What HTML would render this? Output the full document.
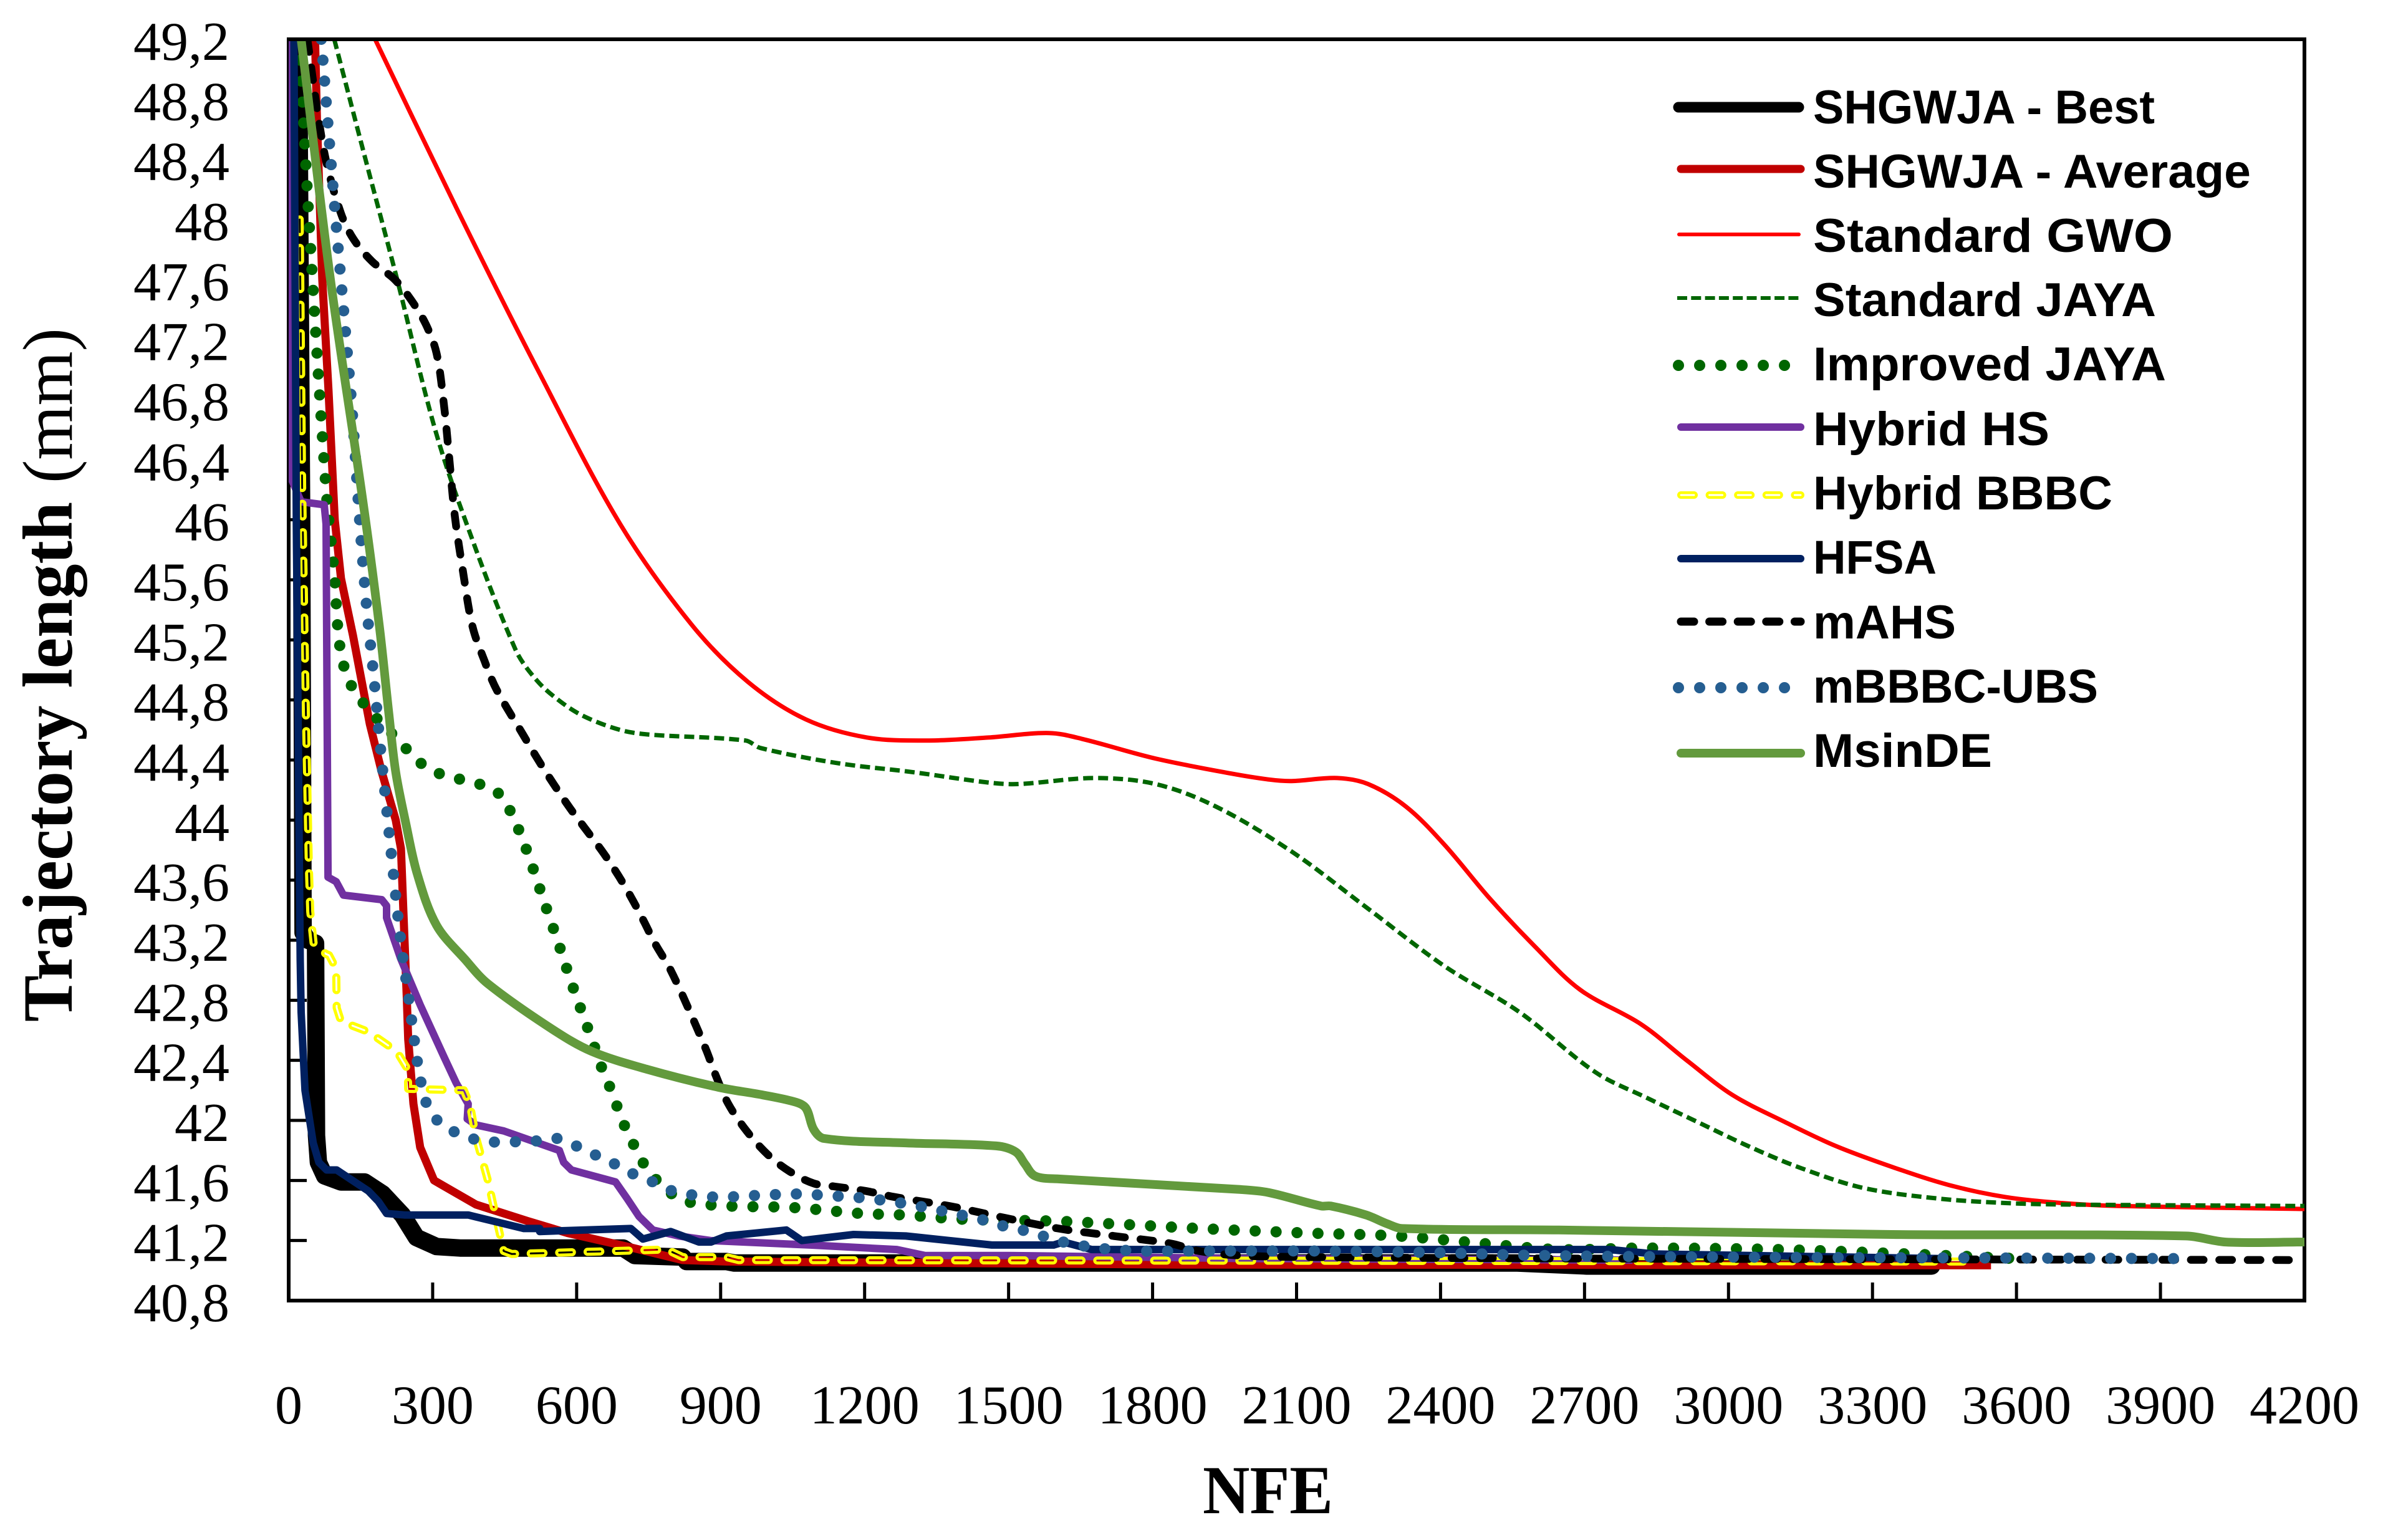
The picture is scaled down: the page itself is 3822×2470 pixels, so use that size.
<!DOCTYPE html>
<html lang="en">
<head>
<meta charset="utf-8">
<title>Trajectory length vs NFE</title>
<style>
html,body{margin:0;padding:0;background:#fff;}
svg{display:block;}
.tick-label{font-family:"Liberation Serif",serif;font-size:88px;fill:#000;}
.legend-text{font-family:"Liberation Sans",sans-serif;font-weight:bold;font-size:76px;fill:#000;}
.s{fill:none;stroke-linejoin:round;}
</style>
</head>
<body>
<svg id="chart" xmlns="http://www.w3.org/2000/svg" width="3822" height="2470" viewBox="0 0 3822 2470">
  <defs>
    <clipPath id="plot-clip"><rect x="463" y="66" width="3233" height="2020"/></clipPath>
    <mask id="bbbc-mask" maskUnits="userSpaceOnUse" x="0" y="0" width="3822" height="2470">
      <rect x="0" y="0" width="3822" height="2470" fill="#fff"/>
      <path id="s-bbbc-inner" fill="none" stroke="#000" stroke-width="3" stroke-linecap="round" stroke-linejoin="round" stroke-dasharray="20.4 25.2"/>
    </mask>
  </defs>
  <rect x="0" y="0" width="3822" height="2470" fill="#fff"/>
  <rect x="463" y="63" width="3233" height="2023" fill="none" stroke="#000" stroke-width="6"/>
  <g id="ticks"></g>
  <g id="tick-labels"></g>

  <g clip-path="url(#plot-clip)">
    <path id="s-best" class="s" stroke="#000" stroke-width="28" stroke-linecap="round"/>
    <path id="s-avg" class="s" stroke="#C00000" stroke-width="13"/>
    <path id="s-gwo" class="s" stroke="#FF0000" stroke-width="7"/>
    <path id="s-jaya" class="s" stroke="#006600" stroke-width="7" stroke-dasharray="16 8"/>
    <path id="s-ijaya" class="s" stroke="#006600" stroke-width="18" stroke-linecap="round" stroke-dasharray="0.01 33.6"/>
    <path id="s-hs" class="s" stroke="#7030A0" stroke-width="12"/>
    <path id="s-bbbc" class="s" stroke="#FFFF00" stroke-width="13" stroke-linecap="round" stroke-dasharray="20.4 25.2" mask="url(#bbbc-mask)"/>
    <path id="s-hfsa" class="s" stroke="#002060" stroke-width="12"/>
    <path id="s-mahs" class="s" stroke="#000" stroke-width="12.5" stroke-linecap="round" stroke-dasharray="20.4 25.2"/>
    <path id="s-ubs" class="s" stroke="#255E91" stroke-width="18" stroke-linecap="round" stroke-dasharray="0.01 33.6"/>
    <path id="s-msin" class="s" stroke="#639A3D" stroke-width="14"/>
  </g>

  <text transform="translate(115 1639) rotate(-90)" font-family="'Liberation Serif',serif" font-weight="bold" font-size="113" fill="#000" textLength="834" lengthAdjust="spacingAndGlyphs">Trajectory length</text>
  <text transform="translate(115 775) rotate(-90)" font-family="'Liberation Serif',serif" font-size="113" fill="#000" textLength="249" lengthAdjust="spacingAndGlyphs">(mm)</text>
  <text x="1929" y="2427" font-family="'Liberation Serif',serif" font-weight="bold" font-size="110" fill="#000" textLength="209" lengthAdjust="spacingAndGlyphs">NFE</text>

  <g>
    <g>
      <line x1="2692" y1="172" x2="2885" y2="172" stroke="#000" stroke-width="17" stroke-linecap="round"/>
      <text class="legend-text" x="2908" y="198" textLength="548" lengthAdjust="spacingAndGlyphs">SHGWJA - Best</text>
    </g>
    <g>
      <line x1="2696" y1="271" x2="2888" y2="271" stroke="#C00000" stroke-width="13" stroke-linecap="round"/>
      <text class="legend-text" x="2908" y="301" textLength="702" lengthAdjust="spacingAndGlyphs">SHGWJA - Average</text>
    </g>
    <g>
      <line x1="2693" y1="376" x2="2885" y2="376" stroke="#FF0000" stroke-width="6" stroke-linecap="round"/>
      <text class="legend-text" x="2908" y="404" textLength="577" lengthAdjust="spacingAndGlyphs">Standard GWO</text>
    </g>
    <g>
      <line x1="2690" y1="478" x2="2888" y2="478" stroke="#006600" stroke-width="6" stroke-dasharray="16 6.3"/>
      <text class="legend-text" x="2908" y="507" textLength="550" lengthAdjust="spacingAndGlyphs">Standard JAYA</text>
    </g>
    <g>
      <line x1="2692" y1="586" x2="2864" y2="586" stroke="#006600" stroke-width="18" stroke-linecap="round" stroke-dasharray="0.01 34"/>
      <text class="legend-text" x="2908" y="610" textLength="566" lengthAdjust="spacingAndGlyphs">Improved JAYA</text>
    </g>
    <g>
      <line x1="2696" y1="685" x2="2888" y2="685" stroke="#7030A0" stroke-width="12" stroke-linecap="round"/>
      <text class="legend-text" x="2908" y="714" textLength="379" lengthAdjust="spacingAndGlyphs">Hybrid HS</text>
    </g>
    <g>
      <line x1="2696" y1="794" x2="2888" y2="794" stroke="#FFFF00" stroke-width="12" stroke-linecap="round" stroke-dasharray="21 24.6"/>
      <line x1="2696" y1="794" x2="2888" y2="794" stroke="#fff" stroke-width="3" stroke-linecap="round" stroke-dasharray="21 24.6"/>
      <text class="legend-text" x="2908" y="817" textLength="480" lengthAdjust="spacingAndGlyphs">Hybrid BBBC</text>
    </g>
    <g>
      <line x1="2696" y1="896" x2="2888" y2="896" stroke="#002060" stroke-width="12" stroke-linecap="round"/>
      <text class="legend-text" x="2908" y="920" textLength="198" lengthAdjust="spacingAndGlyphs">HFSA</text>
    </g>
    <g>
      <line x1="2696" y1="997" x2="2888" y2="997" stroke="#000" stroke-width="13" stroke-linecap="round" stroke-dasharray="21 24.6"/>
      <text class="legend-text" x="2908" y="1024" textLength="229" lengthAdjust="spacingAndGlyphs">mAHS</text>
    </g>
    <g>
      <line x1="2692" y1="1103" x2="2864" y2="1103" stroke="#255E91" stroke-width="18" stroke-linecap="round" stroke-dasharray="0.01 34"/>
      <text class="legend-text" x="2908" y="1127" textLength="457" lengthAdjust="spacingAndGlyphs">mBBBC-UBS</text>
    </g>
    <g>
      <line x1="2696" y1="1208" x2="2888" y2="1208" stroke="#639A3D" stroke-width="14" stroke-linecap="round"/>
      <text class="legend-text" x="2908" y="1230" textLength="287" lengthAdjust="spacingAndGlyphs">MsinDE</text>
    </g>
  </g>
</svg>
<script>
const xTickLabels = ["0","300","600","900","1200","1500","1800","2100","2400","2700","3000","3300","3600","3900","4200"];
const yTickLabels = ["40,8","41,2","41,6","42","42,4","42,8","43,2","43,6","44","44,4","44,8","45,2","45,6","46","46,4","46,8","47,2","47,6","48","48,4","48,8","49,2"];

const bestNfe = [15,21,27,30,40,56,57,58,62,75,109,158,196,237,266,308,357,697,721,821,829,912,929,1217,2560,2705,3423];
const bestLen = [49.2,49,46,43.25,43.2,43.18,42.5,41.9,41.72,41.63,41.59,41.59,41.51,41.37,41.22,41.16,41.15,41.15,41.1,41.09,41.06,41.06,41.05,41.05,41.05,41.03,41.03];

const avgNfe = [55,59,70,83,96,109,134,169,194,223,234,239,246,249,260,274,303,390,498,581,705,821,912,1850,3547];
const avgLen = [49.2,48.66,47.6,46.86,46.0,45.61,45.23,44.64,44.32,44.0,43.81,43.39,42.82,42.54,42.11,41.82,41.6,41.44,41.33,41.25,41.16,41.07,41.06,41.04,41.035];

const gwoNfe = [180,352,522,691,840,957,1078,1205,1331,1458,1584,1654,1806,1964,2043,2090,2185,2249,2328,2407,2502,2596,2691,2818,2913,3008,3117,3223,3341,3459,3576,3694,3812,4200];
const gwoLen = [49.2,48.06,46.98,45.97,45.3,44.92,44.67,44.55,44.53,44.55,44.58,44.54,44.41,44.31,44.27,44.26,44.28,44.24,44.09,43.84,43.48,43.16,42.87,42.64,42.4,42.17,41.99,41.83,41.69,41.57,41.49,41.45,41.43,41.41];

const jayaNfe = [95,156,226,299,353,472,517,566,616,691,750,952,983,1142,1299,1458,1521,1679,1806,1932,2090,2249,2407,2565,2723,2830,2935,3047,3153,3281,3435,3576,3694,4200];
const jayaLen = [49.2,48.45,47.6,46.67,46.13,45.14,44.93,44.79,44.69,44.6,44.57,44.53,44.48,44.38,44.32,44.25,44.24,44.28,44.24,44.09,43.79,43.41,43.03,42.72,42.32,42.15,41.99,41.82,41.68,41.55,41.48,41.45,41.44,41.43];

const improvedNfe = [22,44,78,95,109,139,229,293,383,425,455,491,534,563,591,635,650,667,699,717,738,759,790,829,916,1048,1193,1281,1415,1590,1724,1899,2121,2310,2489,2646,2823,3105,3376,3600];
const improvedLen = [49.2,47.9,46.2,45.64,45.11,44.85,44.53,44.34,44.25,44.21,44.1,43.84,43.44,43.17,42.9,42.51,42.37,42.24,41.97,41.85,41.72,41.63,41.53,41.46,41.43,41.42,41.38,41.37,41.34,41.33,41.31,41.28,41.25,41.23,41.18,41.14,41.15,41.14,41.11,41.08];

const hsNfe = [2,6,26,74,78,82,99,114,194,204,204,233,274,324,349,374,372,390,448,564,573,589,681,705,730,759,813,879,1087,1267,1326,1500,2000,2800];
const hsLen = [49.2,46.27,46.12,46.1,45.97,43.62,43.59,43.5,43.47,43.43,43.35,43.08,42.77,42.42,42.25,42.11,42.01,41.97,41.93,41.8,41.72,41.67,41.59,41.48,41.36,41.27,41.23,41.2,41.17,41.14,41.1,41.1,41.08,41.07];

const bbbcNfe = [23,26,28,29,35,42,45,52,77,84,99,100,109,166,225,248,249,365,378,390,415,431,448,465,788,821,912,937,3495];
const bbbcLen = [48,46.97,46.22,46.04,44.87,43.7,43.39,43.18,43.11,43.1,43.01,42.75,42.66,42.59,42.46,42.34,42.21,42.2,42.1,41.89,41.6,41.37,41.13,41.11,41.14,41.09,41.09,41.07,41.06];

const hfsaNfe = [11,16,24,26,34,51,63,79,100,166,187,204,241,374,490,523,523,713,738,796,855,880,912,1037,1069,1177,1286,1465,1594,1614,1673,2646,2752,2847,3440];
const hfsaLen = [49.2,45.97,43.07,42.72,42.2,41.85,41.72,41.67,41.67,41.53,41.46,41.38,41.37,41.37,41.28,41.28,41.26,41.28,41.21,41.26,41.19,41.19,41.23,41.27,41.2,41.24,41.23,41.17,41.17,41.19,41.14,41.14,41.14,41.11,41.08];

const mahsNfe = [39,59,78,109,135,174,221,256,286,308,323,334,346,363,383,408,433,490,520,552,586,621,656,689,718,741,763,796,846,871,891,916,954,999,1044,1094,1137,1202,1262,1376,1493,1604,1719,1838,1897,1982,2121,2700,4200];
const mahsLen = [49.2,48.74,48.39,48.04,47.87,47.72,47.6,47.46,47.3,47.11,46.78,46.43,46.03,45.66,45.29,45.06,44.87,44.56,44.4,44.24,44.08,43.93,43.78,43.62,43.46,43.32,43.18,43.0,42.65,42.46,42.29,42.11,41.93,41.77,41.66,41.58,41.56,41.53,41.49,41.43,41.35,41.28,41.23,41.18,41.13,41.1,41.09,41.08,41.07];

const ubsNfe = [68,94,117,132,147,161,179,187,200,214,233,251,269,277,279,295,324,365,407,496,539,559,599,639,679,720,759,800,883,972,1060,1120,1207,1294,1386,1443,1485,1528,1571,1614,1686,1773,1863,1962,2141,2380,2609,3000,3930];
const ubsLen = [49.2,48.15,47.3,46.74,46.03,45.47,44.9,44.62,44.2,43.77,43.21,42.79,42.37,42.23,42.19,42.06,41.96,41.9,41.86,41.86,41.87,41.88,41.83,41.77,41.71,41.64,41.59,41.53,41.49,41.5,41.51,41.5,41.48,41.44,41.38,41.34,41.3,41.27,41.23,41.19,41.15,41.13,41.13,41.13,41.13,41.12,41.1,41.09,41.08];

const msinNfe = [26,87,154,189,209,223,244,268,308,368,415,548,631,747,896,987,1058,1078,1094,1115,1286,1474,1515,1534,1555,1604,1982,2041,2151,2171,2245,2290,2320,2646,3341,3953,4036,4200];
const msinLen = [49.2,47.6,46.14,45.29,44.7,44.32,43.98,43.64,43.3,43.07,42.91,42.61,42.46,42.34,42.22,42.17,42.12,42.08,41.94,41.88,41.85,41.83,41.79,41.71,41.63,41.61,41.54,41.52,41.43,41.43,41.37,41.31,41.28,41.27,41.24,41.23,41.19,41.19];

const NS = "http://www.w3.org/2000/svg";
const plotLeft = 463, plotRight = 3696, plotTop = 63, plotBottom = 2086;
const xMin = 0, xMax = 4200, yMin = 40.8, yMax = 49.2;

function xScale(v) { return plotLeft + (v - xMin) / (xMax - xMin) * (plotRight - plotLeft); }
function yScale(v) { return plotBottom - (v - yMin) / (yMax - yMin) * (plotBottom - plotTop); }

function linePath(nfe, len) {
  return nfe.map(function (n, i) {
    return (i ? "L" : "M") + xScale(n).toFixed(1) + " " + yScale(len[i]).toFixed(1);
  }).join("");
}

function smoothPath(nfe, len) {
  const px = nfe.map(xScale);
  const py = len.map(yScale);
  const last = px.length - 1;
  function tangent(i) {
    const a = Math.max(i - 1, 0), b = Math.min(i + 1, last);
    const dx = px[b] - px[a], dy = py[b] - py[a];
    const d = Math.hypot(dx, dy) || 1;
    return [dx / d, dy / d];
  }
  let out = "M" + px[0].toFixed(1) + " " + py[0].toFixed(1);
  for (let i = 0; i < last; i++) {
    const seg = Math.hypot(px[i + 1] - px[i], py[i + 1] - py[i]) / 3;
    const t0 = tangent(i), t1 = tangent(i + 1);
    out += "C" + (px[i] + t0[0] * seg).toFixed(1) + " " + (py[i] + t0[1] * seg).toFixed(1) + " " +
      (px[i + 1] - t1[0] * seg).toFixed(1) + " " + (py[i + 1] - t1[1] * seg).toFixed(1) + " " +
      px[i + 1].toFixed(1) + " " + py[i + 1].toFixed(1);
  }
  return out;
}

document.getElementById("s-best").setAttribute("d", linePath(bestNfe, bestLen));
document.getElementById("s-avg").setAttribute("d", linePath(avgNfe, avgLen));
document.getElementById("s-gwo").setAttribute("d", smoothPath(gwoNfe, gwoLen));
document.getElementById("s-jaya").setAttribute("d", smoothPath(jayaNfe, jayaLen));
document.getElementById("s-ijaya").setAttribute("d", smoothPath(improvedNfe, improvedLen));
document.getElementById("s-hs").setAttribute("d", linePath(hsNfe, hsLen));
document.getElementById("s-bbbc").setAttribute("d", linePath(bbbcNfe, bbbcLen));
document.getElementById("s-bbbc-inner").setAttribute("d", linePath(bbbcNfe, bbbcLen));
document.getElementById("s-hfsa").setAttribute("d", linePath(hfsaNfe, hfsaLen));
document.getElementById("s-mahs").setAttribute("d", smoothPath(mahsNfe, mahsLen));
document.getElementById("s-ubs").setAttribute("d", smoothPath(ubsNfe, ubsLen));
document.getElementById("s-msin").setAttribute("d", smoothPath(msinNfe, msinLen));

const tickGroup = document.getElementById("ticks");
const labelGroup = document.getElementById("tick-labels");

xTickLabels.forEach(function (label) {
  const v = parseFloat(label);
  const px = xScale(v);
  const t = document.createElementNS(NS, "line");
  
  
  t.setAttribute("x1", px);
  t.setAttribute("x2", px);
  t.setAttribute("y1", plotBottom - 29);
  t.setAttribute("y2", plotBottom);
  t.setAttribute("stroke", "#000");
  t.setAttribute("stroke-width", "5");
  tickGroup.appendChild(t);
  const l = document.createElementNS(NS, "text");
  
  
  l.setAttribute("class", "tick-label");
  l.setAttribute("x", px);
  l.setAttribute("y", 2283);
  l.setAttribute("text-anchor", "middle");
  l.textContent = label;
  labelGroup.appendChild(l);
});

yTickLabels.forEach(function (label) {
  const v = parseFloat(label.replace(",", "."));
  const py = yScale(v);
  const t = document.createElementNS(NS, "line");
  
  
  t.setAttribute("x1", plotLeft);
  t.setAttribute("x2", plotLeft + 29);
  t.setAttribute("y1", py);
  t.setAttribute("y2", py);
  t.setAttribute("stroke", "#000");
  t.setAttribute("stroke-width", "5");
  tickGroup.appendChild(t);
  const l = document.createElementNS(NS, "text");
  
  
  l.setAttribute("class", "tick-label");
  l.setAttribute("x", 368);
  l.setAttribute("y", py + 33);
  l.setAttribute("text-anchor", "end");
  l.textContent = label;
  labelGroup.appendChild(l);
});
</script>
</body>
</html>
